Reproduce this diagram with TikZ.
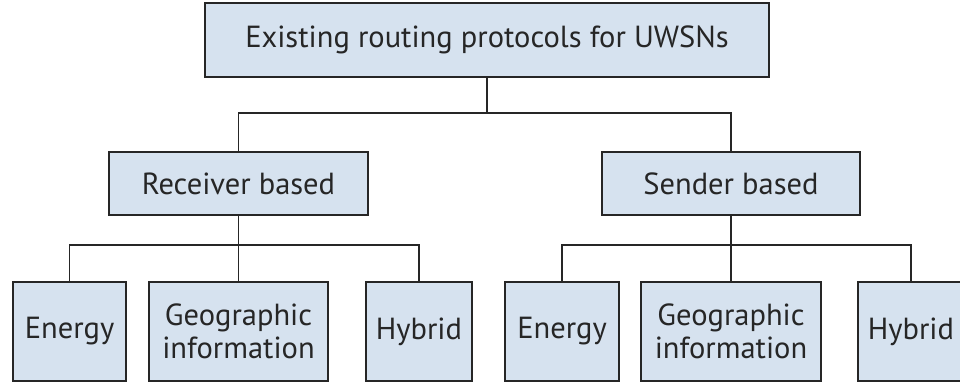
\documentclass[tikz,border=0pt]{standalone}
\usepackage{fontspec}
\setmainfont{PT Sans}
\definecolor{boxfill}{RGB}{214,226,239}
\definecolor{inkcol}{RGB}{38,38,38}
\begin{document}
\begin{tikzpicture}[x=1pt,y=-1pt,
  box/.style={draw=inkcol, fill=boxfill, line width=1.8pt, inner sep=0pt,
    text=inkcol, align=center, font=\fontsize{30.5}{33}\selectfont},
  link/.style={draw=inkcol, line width=1.8pt}]
\useasboundingbox (0,0) rectangle (960,385);
\begin{scope}
\clip (0,0) rectangle (960,385);
% root
\node[box, minimum width=564pt, minimum height=74pt] (root) at (487,40) {Existing routing protocols for UWSNs};
% second level
\node[box, minimum width=259pt, minimum height=63pt] (rb) at (238.5,183.5) {Receiver based};
\node[box, minimum width=258pt, minimum height=63pt] (sb) at (731,183.5) {Sender based};
% leaves
\node[box, minimum width=113pt, minimum height=99pt] (e1) at (69.5,331.5) {Energy};
\node[box, minimum width=179pt, minimum height=99pt] (g1) at (238.5,331.5) {Geographic\\information};
\node[box, minimum width=106pt, minimum height=99pt] (h1) at (419,331.5) {Hybrid};
\node[box, minimum width=114pt, minimum height=99pt] (e2) at (562,331.5) {Energy};
\node[box, minimum width=180pt, minimum height=99pt] (g2) at (731,331.5) {Geographic\\information};
\node[box, minimum width=106pt, minimum height=99pt] (h2) at (911,331.5) {Hybrid};
% connectors
\draw[link] (root.south) -- ++(0,35) coordinate (j0);
\draw[link] (rb.north) |- (j0) -| (sb.north);
\draw[link] (rb.south) -- (g1.north);
\draw[link] (e1.north) -- ++(0,-36) -| (h1.north);
\draw[link] (sb.south) -- (g2.north);
\draw[link] (e2.north) -- ++(0,-36) -| (h2.north);
\end{scope}
\end{tikzpicture}
\end{document}
